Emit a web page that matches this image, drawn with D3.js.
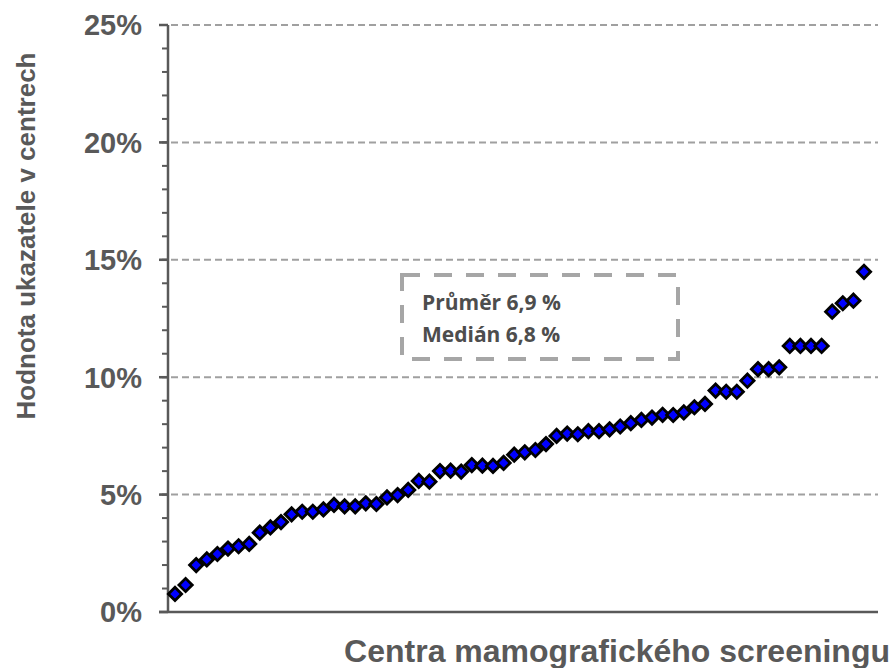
<!DOCTYPE html>
<html>
<head>
<meta charset="utf-8">
<script src="https://cdn.jsdelivr.net/npm/d3@7"></script>
<style>
  body { margin: 0; background: #fff; }
  svg { display: block; }
  .tick-label { font-family: "Liberation Sans", Arial, sans-serif; font-weight: bold; fill: #595959; }
  .title { font-family: "Liberation Sans", Arial, sans-serif; font-weight: bold; fill: #595959; }
  .note { font-family: "Open Sans", "Noto Sans", sans-serif; font-weight: bold; fill: #4d4d4d; }
</style>
</head>
<body>
<div id="chart"></div>
<script>
  // hodnoty ukazatele v jednotlivych centrech (%), serazene vzestupne
  let centerValues = [
    0.77, 1.15, 2.0, 2.24, 2.47, 2.7, 2.8, 2.9, 3.38, 3.6,
    3.83, 4.16, 4.27, 4.27, 4.37, 4.56, 4.5, 4.5, 4.63, 4.6,
    4.88, 4.98, 5.2, 5.58, 5.55, 6.0, 6.02, 5.98, 6.26, 6.23,
    6.22, 6.35, 6.7, 6.8, 6.9, 7.15, 7.5, 7.6, 7.57, 7.7,
    7.7, 7.78, 7.9, 8.04, 8.18, 8.28, 8.4, 8.39, 8.5, 8.72,
    8.86, 9.43, 9.38, 9.38, 9.85, 10.34, 10.34, 10.42, 11.33, 11.33,
    11.33, 11.33, 12.79, 13.15, 13.26, 14.49
  ];
  let yMajorTicks = [0, 5, 10, 15, 20, 25];
  let yMinorTicks = d3.range(0, 26, 1);
  let yTitle = "Hodnota ukazatele v centrech";
  let xTitle = "Centra mamografického screeningu";
  let noteLines = ["Průměr 6,9 %", "Medián 6,8 %"];

  let width = 894, height = 668;
  let plot = { left: 168, right: 878, top: 25, bottom: 612 };

  let svg = d3.select("#chart").append("svg")
    .attr("width", width)
    .attr("height", height);

  let x = d3.scaleLinear()
    .domain([1, centerValues.length])
    .range([175, 864]);

  let y = d3.scaleLinear()
    .domain([0, 25])
    .range([plot.bottom, plot.top]);

  // vodorovna mrizka
  svg.append("g")
    .selectAll("line")
    .data(yMajorTicks.filter(function(d) { return d > 0; }))
    .enter().append("line")
    .attr("x1", plot.left - 8)
    .attr("x2", plot.right)
    .attr("y1", function(d) { return y(d); })
    .attr("y2", function(d) { return y(d); })
    .attr("stroke", "#a0a0a0")
    .attr("stroke-width", 2)
    .attr("stroke-dasharray", "7,4");

  // osa y s malymi carkami
  let yAxis = svg.append("g")
    .attr("transform", "translate(" + plot.left + ",0)");

  yAxis.selectAll("line.minor")
    .data(yMinorTicks)
    .enter().append("line")
    .attr("class", "minor")
    .attr("x1", -6)
    .attr("x2", 0)
    .attr("y1", function(d) { return y(d); })
    .attr("y2", function(d) { return y(d); })
    .attr("stroke", "#595959")
    .attr("stroke-width", 2);

  yAxis.selectAll("line.major")
    .data(yMajorTicks)
    .enter().append("line")
    .attr("class", "major")
    .attr("x1", -9)
    .attr("x2", 0)
    .attr("y1", function(d) { return y(d); })
    .attr("y2", function(d) { return y(d); })
    .attr("stroke", "#595959")
    .attr("stroke-width", 2.5);

  yAxis.append("line")
    .attr("y1", y(0) + 1)
    .attr("y2", y(25))
    .attr("stroke", "#595959")
    .attr("stroke-width", 2.5);

  yAxis.selectAll("text")
    .data(yMajorTicks)
    .enter().append("text")
    .attr("class", "tick-label")
    .attr("x", -26)
    .attr("y", function(d) { return y(d); })
    .attr("dy", "0.36em")
    .attr("text-anchor", "end")
    .style("font-size", "29px")
    .text(function(d) { return d + "%"; });

  // osa x
  svg.append("line")
    .attr("x1", plot.left - 9)
    .attr("x2", plot.right)
    .attr("y1", y(0))
    .attr("y2", y(0))
    .attr("stroke", "#595959")
    .attr("stroke-width", 2.5);

  // popisky os
  svg.append("text")
    .attr("class", "title")
    .attr("transform", "translate(35," + 236 + ") rotate(-90)")
    .attr("text-anchor", "middle")
    .style("font-size", "26px")
    .text(yTitle);

  svg.append("text")
    .attr("class", "title")
    .attr("x", 890)
    .attr("y", 662)
    .attr("text-anchor", "end")
    .style("font-size", "32px")
    .text(xTitle);

  // ramecek s prumerem a medianem
  let note = svg.append("g");
  note.append("rect")
    .attr("x", 402)
    .attr("y", 275)
    .attr("width", 276)
    .attr("height", 84)
    .attr("fill", "none")
    .attr("stroke", "#a6a6a6")
    .attr("stroke-width", 4)
    .attr("stroke-dasharray", "18,14");

  note.selectAll("text")
    .data(noteLines)
    .enter().append("text")
    .attr("class", "note")
    .attr("x", 422)
    .attr("y", function(d, i) { return 310 + i * 32; })
    .style("font-size", "21px")
    .text(function(d) { return d; });

  // body
  let diamond = d3.symbol().type(d3.symbolSquare).size(88);
  svg.append("g")
    .selectAll("path")
    .data(centerValues)
    .enter().append("path")
    .attr("d", diamond)
    .attr("transform", function(d, i) {
      return "translate(" + x(i + 1) + "," + y(d) + ") rotate(45)";
    })
    .attr("fill", "#0000ff")
    .attr("stroke", "#000")
    .attr("stroke-width", 2.8);
</script>
</body>
</html>
